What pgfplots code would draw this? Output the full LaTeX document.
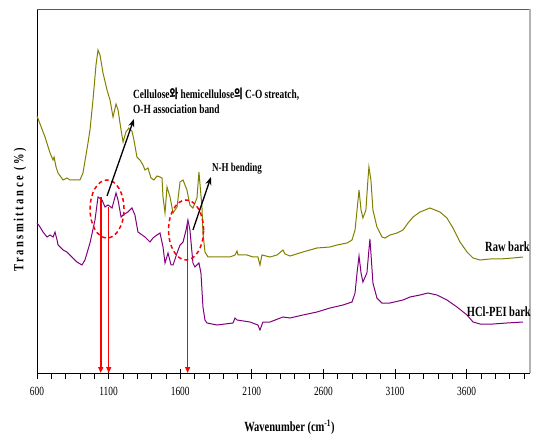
\documentclass[border=0pt]{standalone}
\usepackage{pgfplots}
\pgfplotsset{compat=1.18}
\usepackage{fontspec}
\setmainfont{Liberation Serif}[FakeStretch=0.75]
\newfontfamily\kr{Noto Sans CJK KR}[FakeStretch=0.75]
\usetikzlibrary{arrows.meta}
\definecolor{rawc}{RGB}{128,128,0}
\definecolor{peic}{RGB}{128,0,128}

\begin{document}
\begin{tikzpicture}
\path[use as bounding box] (-37pt,-63pt) rectangle (498pt,373pt);
\begin{axis}[
    at={(0pt,0pt)}, anchor=south west,
    scale only axis,
    width=493pt, height=364pt,
    xmin=600, xmax=4043, ymin=0, ymax=364,
    axis x line*=bottom, axis y line*=left,
    axis line style={line width=0.8pt},
    ytick=\empty,
    xtick={600,1100,...,3600},
    minor xtick={600,700,...,4000},
    tick align=outside,
    major tick length=9pt, minor tick length=6pt,
    major tick style={yshift=4pt},
    every tick/.style={black, line width=0.6pt},
    xticklabel style={font=\fontsize{12.5}{13}\selectfont, yshift=-2pt},
    /pgf/number format/assume math mode=true,
    /pgf/number format/set thousands separator={},
    xlabel={Wavenumber (cm\textsuperscript{-1})},
    xlabel style={font=\fontsize{14}{16}\selectfont\bfseries,
                  at={(axis description cs:0.512,-0.148)}, anchor=center},
    ylabel={Transmittance (\%)},
    ylabel style={font=\fontsize{14}{16}\selectfont\bfseries\addfontfeature{LetterSpace=18},
                  at={(axis description cs:-0.0345,0.448)}, anchor=center},
    clip=false,
]
% Raw bark
\addplot[rawc, line width=1pt] coordinates {
 (600,257) (656,236) (691,220) (712,213) (719,216) (733,206) (747,200)
 (782,193) (809,195) (830,193) (900,193) (921,200) (956,230) (970,243)
 (991,273) (1012,308) (1026,323) (1040,318) (1061,300) (1089,283)
 (1110,273) (1131,256) (1152,269) (1166,263) (1187,243) (1201,231)
 (1221,241) (1242,245) (1263,242) (1277,233) (1298,216) (1319,213)
 (1340,208) (1354,203) (1375,205) (1396,195) (1417,193) (1438,197)
 (1459,196) (1473,195) (1480,176) (1494,160) (1508,186) (1529,176)
 (1550,160) (1578,166) (1599,191) (1620,193) (1647,183) (1668,168)
 (1689,165) (1717,175) (1731,201) (1752,166) (1759,140) (1773,121)
 (1794,116) (1857,116) (1948,116) (1983,118) (1997,122) (2004,118)
 (2066,118) (2108,116) (2143,116) (2157,108) (2171,118) (2227,116)
 (2276,118) (2318,123) (2332,119) (2367,117) (2457,121) (2555,125)
 (2646,126) (2695,128) (2765,130) (2800,133) (2821,143) (2835,163)
 (2849,183) (2863,163) (2876,155) (2897,163) (2911,193) (2918,206)
 (2932,193) (2946,163) (2974,146) (3009,136) (3030,135) (3065,138)
 (3114,140) (3156,143) (3191,150) (3226,156) (3275,161) (3344,165)
 (3414,161) (3463,155) (3505,145) (3554,131) (3603,121) (3645,115)
 (3694,113) (3763,114) (3833,114) (3924,115) (3994,116)
};
% HCl-PEI bark
\addplot[peic, line width=1pt] coordinates {
 (600,150) (621,146) (642,141) (670,136) (691,138) (712,136) (726,141)
 (740,133) (747,128) (782,123) (809,121) (830,118) (879,111) (914,108)
 (935,113) (970,130) (1005,153) (1026,176) (1054,173) (1075,166)
 (1096,168) (1124,165) (1152,180) (1166,173) (1187,156) (1201,158)
 (1235,161) (1263,165) (1284,158) (1305,141) (1354,136) (1389,131)
 (1410,135) (1438,138) (1459,140) (1480,126) (1494,110) (1515,120)
 (1536,108) (1550,108) (1578,120) (1599,128) (1620,131) (1641,143)
 (1654,153) (1668,143) (1689,110) (1703,106) (1731,110) (1745,100)
 (1759,66) (1773,53) (1787,50) (1857,48) (1969,50) (1983,55) (1997,53)
 (2087,51) (2143,48) (2157,43) (2178,51) (2227,51) (2318,56) (2367,55)
 (2457,58) (2555,61) (2646,65) (2737,68) (2800,71) (2821,80) (2835,100)
 (2849,117) (2863,100) (2876,91) (2904,100) (2918,123) (2925,134)
 (2932,120) (2946,90) (2974,75) (3009,70) (3065,70) (3156,73) (3205,76)
 (3275,78) (3330,80) (3393,78) (3463,73) (3533,66) (3603,58) (3645,51)
 (3694,49) (3784,49) (3882,50) (3994,51)
};
% frame
\draw[gray!70!black, line width=0.6pt] (rel axis cs:0,1) -- (rel axis cs:1,1);
\draw[gray!60, line width=1.5pt] (rel axis cs:1,1) -- (rel axis cs:1,0);
% annotations
\draw[red, line width=1.5pt, dash pattern=on 4pt off 3pt]
  (axis cs:1089,164) ellipse [x radius=17pt, y radius=29pt];
\draw[red, line width=1.5pt, dash pattern=on 4pt off 3pt]
  (axis cs:1641,143) ellipse [x radius=17.5pt, y radius=30pt];
\draw[red, line width=2pt, -{Triangle[length=6pt,width=5pt]}] (axis cs:1045,176) -- (axis cs:1045,0);
\draw[red, line width=1.2pt, -{Triangle[length=6pt,width=5pt]}] (axis cs:1101,166) -- (axis cs:1101,0);
\draw[red, line width=1.3pt, -{Triangle[length=6pt,width=5pt]}] (axis cs:1652,153) -- (axis cs:1652,0);
\draw[black, line width=1.3pt, -{Stealth[length=8pt,width=6pt]}] (axis cs:1089,177) -- (axis cs:1277,254);
\draw[black, line width=1.3pt, -{Stealth[length=8pt,width=6pt]}] (axis cs:1689,143) -- (axis cs:1815,196);
\node[anchor=west, inner sep=0pt, font=\fontsize{12.5}{14}\selectfont\bfseries]
  at (axis cs:1270,279) {Cellulose{\kr 와} hemicellulose{\kr 의} C-O streatch,};
\node[anchor=west, inner sep=0pt, font=\fontsize{12.5}{14}\selectfont\bfseries]
  at (axis cs:1270,264) {O-H association band};
\node[anchor=west, inner sep=0pt, font=\fontsize{12}{14}\selectfont\bfseries]
  at (axis cs:1822,204) {N-H bending};
\node[anchor=east, inner sep=0pt, font=\fontsize{14}{16}\selectfont\bfseries]
  at (axis cs:4043,126) {Raw bark};
\node[anchor=east, inner sep=0pt, font=\fontsize{14}{16}\selectfont\bfseries]
  at (axis cs:4050,61) {HCl-PEI bark};
\end{axis}
\end{tikzpicture}
\end{document}
